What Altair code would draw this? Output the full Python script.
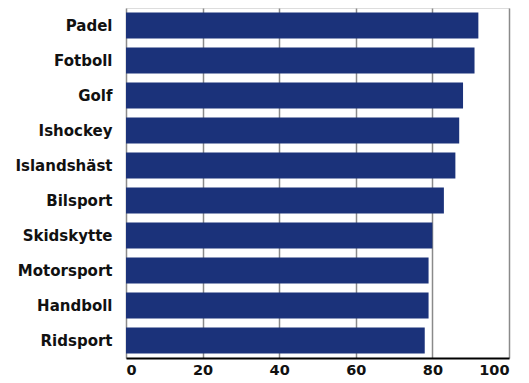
import altair as alt
import pandas as pd

sports = ["Padel", "Fotboll", "Golf", "Ishockey", "Islandshäst", "Bilsport",
          "Skidskytte", "Motorsport", "Handboll", "Ridsport"]
values = [92, 91, 88, 87, 86, 83, 80, 79, 79, 78]

df = pd.DataFrame({"sport": sports, "value": values})

FONT = "DejaVu Sans"

chart = alt.Chart(df).mark_bar(color="#1b327a").encode(
    x=alt.X("value:Q", scale=alt.Scale(domain=[0, 100], nice=False),
            axis=alt.Axis(title=None, values=[0, 20, 40, 60, 80, 100],
                          grid=True, gridColor="#8a8a8a", gridWidth=1.5,
                          domainColor="#000000", domainWidth=2,
                          ticks=False, labelPadding=5,
                          labelFont=FONT, labelFontSize=14.5, labelFontWeight="bold",
                          labelColor="#111111")),
    y=alt.Y("sport:N", sort=sports,
            scale=alt.Scale(paddingInner=0.26, paddingOuter=0.13),
            axis=alt.Axis(title=None, domain=False, ticks=False, labelPadding=14,
                          minExtent=113, maxExtent=113,
                          labelFont=FONT, labelFontSize=15, labelFontWeight="bold",
                          labelColor="#111111")),
).properties(
    width=383, height=350,
    padding={"left": 5, "top": 0, "right": 5, "bottom": 5},
).configure_view(stroke=None).configure(background="white")

chart.save("out.html", embed_options={"renderer": "svg", "actions": False})
